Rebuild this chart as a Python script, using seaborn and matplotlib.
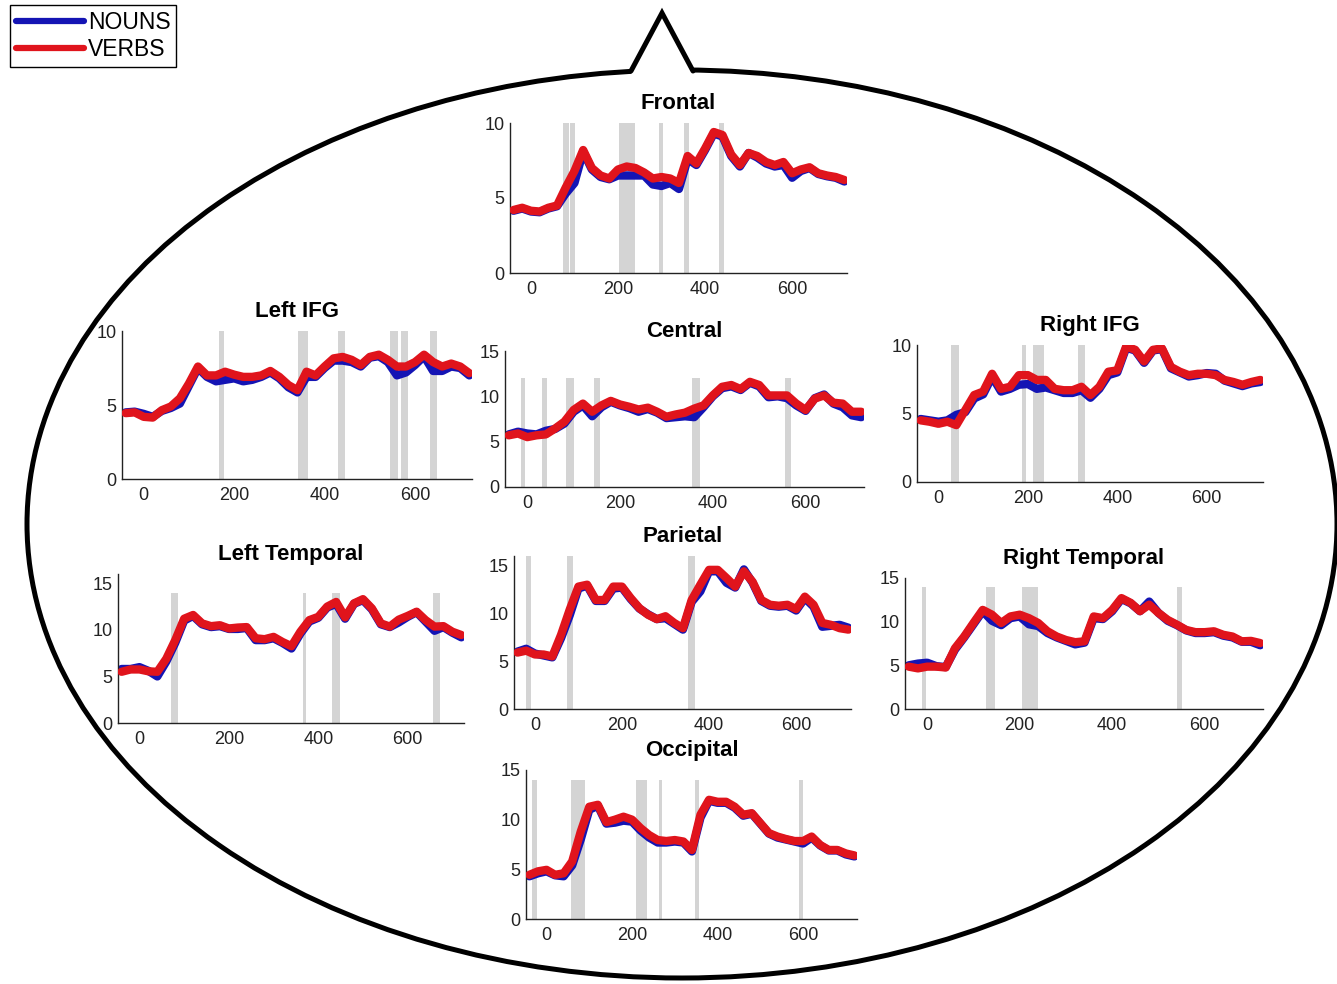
import numpy as np
import matplotlib
matplotlib.use("Agg")
import matplotlib.pyplot as plt
from matplotlib.patches import Ellipse, Polygon
from matplotlib.lines import Line2D
import seaborn as sns

sns.set_style("white")
plt.rcParams['font.family'] = ['Liberation Sans', 'DejaVu Sans']

# time axis (ms), one sample every 20 ms
times = np.arange(-40, 721, 20)

# --- data (-40..720 ms) ---
frontal_verbs = [4.2, 4.35, 4.15, 4.1, 4.35, 4.5, 5.7, 6.8, 8.2, 7.0,
                 6.5, 6.3, 6.9, 7.1, 7.0, 6.7, 6.3, 6.4, 6.3, 6.0,
                 7.8, 7.3, 8.3, 9.4, 9.2, 7.9, 7.2, 8.0, 7.8, 7.4,
                 7.2, 7.4, 6.65, 6.9, 7.05, 6.65, 6.5, 6.4, 6.2]
frontal_nouns = [4.15, 4.3, 4.1, 4.05, 4.3, 4.45, 5.3, 6.0, 8.1, 6.9,
                 6.4, 6.25, 6.5, 6.5, 6.5, 6.5, 5.9, 5.8, 6.0, 5.6,
                 7.6, 7.2, 8.2, 9.3, 9.1, 7.8, 7.1, 8.0, 7.7, 7.3,
                 7.1, 7.2, 6.35, 6.8, 7.0, 6.6, 6.45, 6.35, 6.1]
frontal_sig = [(73, 87), (90, 102), (203, 238), (294, 303), (351, 363), (433, 443)]

left_ifg_verbs = [4.45, 4.5, 4.2, 4.15, 4.65, 4.9, 5.45, 6.45, 7.6, 7.0,
                  7.0, 7.25, 7.05, 6.9, 6.9, 7.0, 7.3, 6.9, 6.35, 6.0,
                  7.25, 7.0, 7.6, 8.15, 8.25, 8.05, 7.7, 8.25, 8.4, 8.05,
                  7.6, 7.6, 7.9, 8.4, 7.9, 7.6, 7.8, 7.6, 7.15]
left_ifg_nouns = [4.5, 4.55, 4.4, 4.2, 4.6, 4.8, 5.1, 6.3, 7.5, 6.9,
                  6.6, 6.7, 6.8, 6.6, 6.7, 6.9, 7.2, 6.8, 6.2, 5.85,
                  6.9, 6.9, 7.5, 8.0, 8.0, 7.9, 7.6, 8.2, 8.3, 7.9,
                  7.0, 7.2, 7.7, 8.3, 7.3, 7.3, 7.6, 7.5, 7.0]
left_ifg_sig = [(166, 178), (342, 364), (430, 445), (545, 563), (569, 584), (633, 648)]

central_verbs = [5.7, 5.9, 5.5, 5.7, 5.8, 6.45, 7.2, 8.5, 9.2, 8.3,
                 9.0, 9.5, 9.1, 8.85, 8.55, 8.75, 8.3, 7.75, 8.0, 8.2,
                 8.65, 9.0, 10.1, 11.05, 11.25, 10.8, 11.6, 11.25, 10.1, 10.1,
                 10.1, 9.2, 8.5, 9.75, 10.1, 9.3, 9.2, 8.3, 8.3]
central_nouns = [5.8, 6.1, 5.9, 5.8, 6.2, 6.4, 7.0, 8.3, 9.0, 7.8,
                 8.8, 9.4, 9.0, 8.7, 8.3, 8.6, 8.2, 7.6, 7.7, 7.8,
                 7.7, 8.8, 10.0, 10.9, 11.1, 10.7, 11.5, 11.1, 9.9, 10.0,
                 9.8, 9.0, 8.4, 9.8, 10.2, 9.2, 8.8, 7.9, 7.7]
central_sig = [(-14, -4), (32, 43), (83, 100), (144, 156), (355, 372), (555, 569)]

right_ifg_verbs = [4.5, 4.4, 4.25, 4.4, 4.15, 5.25, 6.35, 6.6, 7.9, 6.8,
                   6.95, 7.8, 7.8, 7.45, 7.45, 6.8, 6.7, 6.7, 6.95, 6.35,
                   6.95, 8.05, 8.15, 9.9, 9.65, 8.8, 9.65, 9.75, 8.4, 8.05,
                   7.8, 7.9, 7.9, 7.8, 7.45, 7.3, 7.1, 7.3, 7.45]
right_ifg_nouns = [4.6, 4.5, 4.4, 4.5, 4.9, 5.1, 6.1, 6.4, 7.7, 6.6,
                   6.8, 7.1, 7.15, 6.8, 6.9, 6.7, 6.5, 6.5, 6.7, 6.15,
                   6.8, 7.8, 8.0, 9.8, 9.6, 8.7, 9.6, 9.7, 8.3, 8.0,
                   7.7, 7.8, 7.95, 7.9, 7.4, 7.2, 7.0, 7.2, 7.3]
right_ifg_sig = [(28, 46), (186, 195), (212, 235), (313, 328)]

left_temporal_verbs = [5.5, 5.75, 5.75, 5.55, 5.5, 6.9, 8.9, 11.2, 11.6, 10.7,
                       10.4, 10.5, 10.15, 10.25, 10.3, 9.1, 9.0, 9.25, 8.7, 8.25,
                       9.8, 11.05, 11.4, 12.5, 13.0, 11.35, 12.85, 13.3, 12.3, 10.7,
                       10.35, 11.1, 11.5, 11.95, 11.05, 10.35, 10.4, 9.8, 9.45]
left_temporal_nouns = [5.8, 5.8, 6.0, 5.6, 5.0, 6.6, 8.6, 11.0, 11.5, 10.6,
                       10.3, 10.4, 10.1, 10.1, 10.2, 8.9, 8.9, 9.1, 8.6, 8.0,
                       9.6, 10.9, 11.3, 12.4, 12.8, 11.2, 12.8, 13.2, 12.2, 10.6,
                       10.3, 10.8, 11.4, 11.9, 10.9, 9.9, 10.3, 9.7, 9.2]
left_temporal_sig = [(71, 86), (365, 373), (431, 448), (656, 673)]

parietal_verbs = [5.9, 6.1, 5.7, 5.7, 5.5, 7.75, 10.4, 12.8, 13.0, 11.4,
                  11.4, 12.8, 12.8, 11.6, 10.55, 9.85, 9.4, 9.7, 9.0, 8.45,
                  11.4, 13.0, 14.55, 14.55, 13.7, 12.8, 14.4, 13.3, 11.4, 10.9,
                  10.8, 10.9, 10.45, 11.75, 10.9, 9.0, 8.8, 8.45, 8.3]
parietal_nouns = [6.0, 6.3, 5.8, 5.6, 5.4, 7.4, 9.8, 12.6, 12.9, 11.3,
                  11.3, 12.6, 12.7, 11.5, 10.5, 9.9, 9.4, 9.5, 8.9, 8.3,
                  11.2, 12.3, 14.4, 14.4, 13.2, 12.7, 14.6, 13.2, 11.3, 10.8,
                  10.7, 10.8, 10.3, 11.6, 10.7, 8.6, 8.7, 8.8, 8.5]
parietal_sig = [(-21, -8), (73, 88), (352, 368)]

right_temporal_verbs = [4.85, 4.65, 4.85, 4.85, 4.75, 6.95, 8.3, 9.85, 11.35, 10.8,
                        9.85, 10.6, 10.8, 10.4, 9.85, 8.9, 8.3, 7.9, 7.65, 7.75,
                        10.6, 10.4, 11.35, 12.7, 12.15, 11.2, 11.95, 11.0, 10.2, 9.65,
                        9.05, 8.8, 8.8, 8.9, 8.5, 8.3, 7.75, 7.8, 7.55]
right_temporal_nouns = [5.0, 5.2, 5.3, 4.9, 4.8, 6.8, 8.2, 9.7, 11.2, 10.1,
                        9.6, 10.4, 10.6, 9.7, 9.5, 8.7, 8.2, 7.8, 7.4, 7.6,
                        10.4, 10.3, 11.2, 12.6, 12.1, 11.2, 12.3, 11.0, 10.1, 9.6,
                        9.0, 8.7, 8.7, 8.8, 8.4, 8.2, 7.7, 7.7, 7.3]
right_temporal_sig = [(-12, -3), (128, 146), (206, 240), (540, 550)]

occipital_verbs = [4.45, 4.8, 4.95, 4.45, 4.6, 5.8, 8.8, 11.3, 11.5, 9.75,
                   10.0, 10.3, 10.0, 9.15, 8.45, 7.95, 7.85, 7.95, 7.8, 6.95,
                   10.5, 12.0, 11.8, 11.8, 11.3, 10.5, 10.65, 9.65, 8.65, 8.3,
                   8.05, 7.85, 7.85, 8.3, 7.45, 6.95, 6.95, 6.6, 6.4]
occipital_nouns = [4.3, 4.6, 4.8, 4.4, 4.3, 5.4, 8.0, 11.0, 11.4, 9.6,
                   9.7, 9.9, 9.8, 8.9, 8.2, 7.7, 7.7, 7.8, 7.7, 6.8,
                   10.2, 11.9, 11.7, 11.7, 11.2, 10.4, 10.6, 9.6, 8.6, 8.2,
                   8.0, 7.8, 7.6, 8.2, 7.4, 6.9, 6.9, 6.5, 6.3]
occipital_sig = [(-33, -22), (58, 90), (210, 234), (263, 270), (347, 357), (590, 600)]

# title, nouns, verbs, significant windows, shaded-bar top, y-limit top
regions = [
    ("Frontal", frontal_nouns, frontal_verbs, frontal_sig, 10, 10),
    ("Left IFG", left_ifg_nouns, left_ifg_verbs, left_ifg_sig, 10, 10),
    ("Central", central_nouns, central_verbs, central_sig, 12, 15),
    ("Right IFG", right_ifg_nouns, right_ifg_verbs, right_ifg_sig, 10, 10),
    ("Left Temporal", left_temporal_nouns, left_temporal_verbs, left_temporal_sig, 14, 16),
    ("Parietal", parietal_nouns, parietal_verbs, parietal_sig, 16, 16),
    ("Right Temporal", right_temporal_nouns, right_temporal_verbs, right_temporal_sig, 14, 15),
    ("Occipital", occipital_nouns, occipital_verbs, occipital_sig, 14, 15),
]

# axes boxes in pixels: left, right, top, bottom
W, H = 1337, 984
boxes = {
    "Frontal": (510, 847, 123, 273),
    "Left IFG": (122, 472, 331, 479),
    "Central": (505, 864, 351, 487),
    "Right IFG": (917, 1263, 345, 482),
    "Left Temporal": (118, 464, 574, 723),
    "Parietal": (514, 851, 556, 709),
    "Right Temporal": (905, 1263, 578, 709),
    "Occipital": (526, 857, 770, 919),
}

BLUE = "#1414b4"
RED = "#e0141c"
GRAY = "#d4d4d4"

fig = plt.figure(figsize=(W / 100, H / 100), dpi=100, facecolor="white")

# speech-bubble outline behind the panels
bg = fig.add_axes([0, 0, 1, 1], zorder=-1)
bg.set_xlim(0, W)
bg.set_ylim(H, 0)
bg.axis("off")
bg.add_patch(Ellipse((682, 524), 2 * 655, 2 * 454, fill=False, lw=3.6, ec="black"))
bg.add_patch(Polygon([(630, 79), (633, 68), (662, 13), (692, 68), (696, 79)],
                     closed=True, fc="white", ec="none", zorder=3))
bg.plot([631, 662, 693], [71, 13, 71], color="black", lw=3.6, zorder=4,
        solid_joinstyle="miter")

for title, nouns, verbs, sig, bar_top, y_top in regions:
    l, r, t, b = boxes[title]
    ax = fig.add_axes([l / W, 1 - b / H, (r - l) / W, (b - t) / H])
    ax.patch.set_alpha(0)
    for a, e in sig:
        ax.bar((a + e) / 2, bar_top, width=e - a, color=GRAY, linewidth=0, zorder=1)
    sns.lineplot(x=times, y=nouns, color=BLUE, lw=6, ax=ax, zorder=2,
                 solid_capstyle="round", solid_joinstyle="round")
    sns.lineplot(x=times, y=verbs, color=RED, lw=6, ax=ax, zorder=3,
                 solid_capstyle="round", solid_joinstyle="round")
    ax.set_xlim(-48, 726)
    ax.set_ylim(0, y_top)
    ax.set_xticks([0, 200, 400, 600])
    ax.set_yticks([v for v in (0, 5, 10, 15) if v <= y_top])
    ax.tick_params(direction="in", length=3, labelsize=13, colors="#222222")
    ax.tick_params(axis="x", pad=6)
    ax.tick_params(axis="y", pad=4)
    sns.despine(ax=ax)
    for s in ("left", "bottom"):
        ax.spines[s].set_linewidth(1.0)
        ax.spines[s].set_color("#222222")
    ax.set_xlabel("")
    ax.set_ylabel("")
    ax.set_title(title, fontsize=16, fontweight="bold", color="black", pad=10)

handles = [Line2D([], [], color=BLUE, lw=4.5), Line2D([], [], color=RED, lw=4.5)]
leg = fig.legend(handles, ["NOUNS", "VERBS"], loc="upper left",
                 bbox_to_anchor=(10 / W, 1 - 5 / H), frameon=True, fancybox=False,
                 edgecolor="black", framealpha=1, fontsize=16.5, handlelength=3.0,
                 handletextpad=0.15, borderpad=0.25, labelspacing=0.2,
                 borderaxespad=0)
for txt in leg.get_texts():
    txt.set_color("black")
leg.get_frame().set_linewidth(1.0)

fig.savefig("out.png", dpi=100, facecolor="white")
